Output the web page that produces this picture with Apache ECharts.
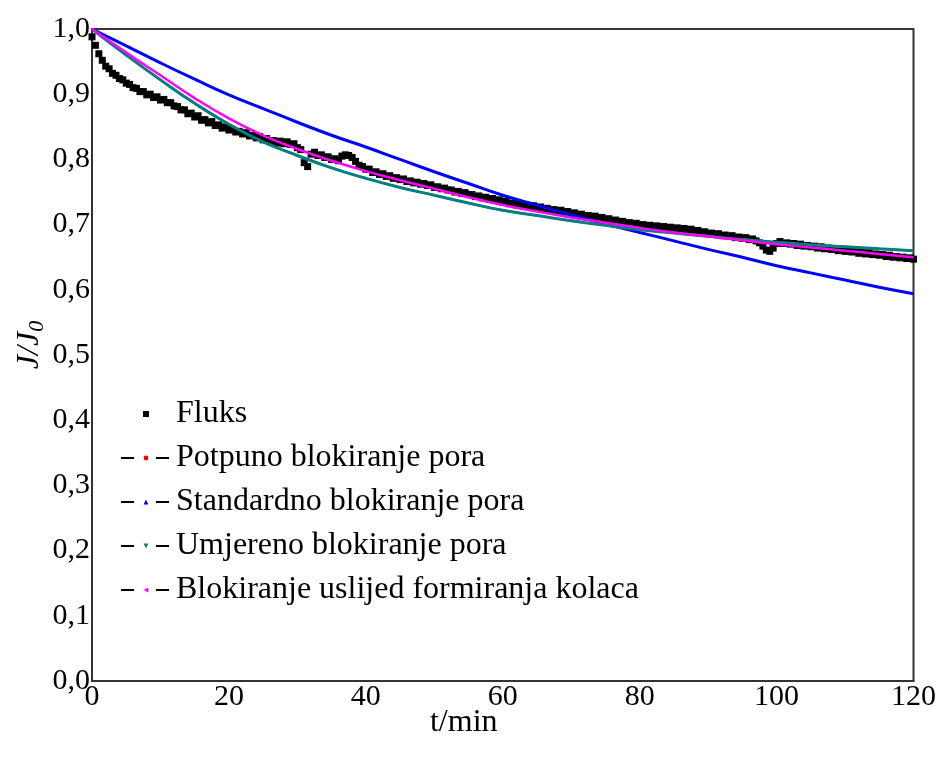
<!DOCTYPE html>
<html>
<head>
<meta charset="utf-8">
<script src="https://cdn.jsdelivr.net/npm/echarts@6/dist/echarts.min.js"></script>
<style>
html,body{margin:0;padding:0;background:#fff;}
#chart{width:939px;height:762px;}
</style>
</head>
<body>
<div id="chart"></div>
<script>
// ---- data ----
const seriesNames = ['Fluks', 'Potpuno blokiranje pora', 'Standardno blokiranje pora', 'Umjereno blokiranje pora', 'Blokiranje uslijed formiranja kolaca'];

// measured flux, one reading every 0.5 min from t = 0
const fluxStep = 0.5;
const fluxValues = [
0.988,0.975,0.962,0.952,0.943,0.939,0.932,0.929,0.924,0.922,0.917,0.915,0.910,0.909,0.904,0.904,0.899,0.900,0.895,0.896,
0.891,0.892,0.887,0.887,0.882,0.881,0.876,0.876,0.870,0.871,0.865,0.867,0.860,0.861,0.856,0.858,0.852,0.853,0.848,0.850,
0.845,0.846,0.842,0.843,0.839,0.841,0.836,0.837,0.833,0.835,0.830,0.832,0.827,0.829,0.825,0.828,0.824,0.827,0.823,0.824,
0.818,0.815,0.795,0.789,0.808,0.811,0.806,0.807,0.803,0.804,0.800,0.801,0.798,0.805,0.807,0.806,0.803,0.797,0.791,0.789,
0.785,0.785,0.780,0.781,0.777,0.778,0.774,0.775,0.771,0.772,0.769,0.770,0.766,0.767,0.764,0.765,0.762,0.763,0.760,0.761,
0.757,0.758,0.755,0.756,0.753,0.753,0.750,0.751,0.748,0.749,0.746,0.746,0.743,0.744,0.741,0.742,0.739,0.740,0.737,0.738,
0.735,0.736,0.732,0.733,0.730,0.731,0.728,0.730,0.727,0.729,0.726,0.727,0.724,0.725,0.722,0.723,0.721,0.722,0.719,0.720,
0.717,0.718,0.715,0.716,0.713,0.714,0.711,0.713,0.710,0.711,0.708,0.709,0.706,0.707,0.704,0.705,0.702,0.703,0.701,0.702,
0.699,0.700,0.698,0.699,0.696,0.698,0.695,0.697,0.694,0.696,0.693,0.695,0.692,0.694,0.692,0.693,0.691,0.691,0.688,0.689,
0.686,0.687,0.685,0.686,0.683,0.684,0.682,0.683,0.680,0.681,0.679,0.680,0.677,0.678,0.675,0.672,0.667,0.661,0.659,0.664,
0.671,0.674,0.671,0.672,0.670,0.671,0.668,0.670,0.667,0.668,0.666,0.667,0.664,0.666,0.663,0.664,0.662,0.663,0.660,0.662,
0.659,0.660,0.658,0.659,0.656,0.658,0.655,0.657,0.654,0.655,0.653,0.654,0.651,0.653,0.650,0.651,0.649,0.650,0.648,0.649,
0.647
];

// model curves, read every 5 min (the complete-blocking curve lies under the intermediate one)
const fitTime = [0,5,10,15,20,25,30,35,40,45,50,55,60,65,70,75,80,85,90,95,100,105,110,115,120];
const potpuno    = [1.000,0.960,0.922,0.886,0.854,0.827,0.806,0.787,0.771,0.757,0.745,0.733,0.722,0.714,0.706,0.699,0.692,0.687,0.682,0.677,0.673,0.669,0.666,0.663,0.660];
const standardno = [1.000,0.974,0.948,0.923,0.899,0.878,0.857,0.837,0.819,0.800,0.781,0.763,0.745,0.730,0.715,0.701,0.688,0.675,0.662,0.650,0.637,0.626,0.615,0.604,0.594];
const umjereno   = [1.000,0.960,0.922,0.886,0.854,0.827,0.806,0.787,0.771,0.757,0.745,0.733,0.722,0.714,0.706,0.699,0.692,0.687,0.682,0.677,0.673,0.669,0.666,0.663,0.660];
const kolac      = [1.000,0.964,0.929,0.894,0.863,0.837,0.816,0.798,0.782,0.768,0.755,0.742,0.730,0.720,0.711,0.703,0.695,0.688,0.682,0.676,0.670,0.665,0.660,0.655,0.650];

// ---- chart ----
const FONT = '"Liberation Serif", "Times New Roman", serif';
const pair = (xs, ys) => xs.map((x, i) => [x, ys[i]]);
const fluxData = fluxValues.map((v, i) => [i * fluxStep, v]);

const chart = echarts.init(document.getElementById('chart'), null, {renderer: 'canvas'});
chart.setOption({
  animation: false,
  backgroundColor: '#fff',
  grid: {left: 92, right: 25, top: 29, bottom: 81, show: true, borderColor: '#333', borderWidth: 2, backgroundColor: 'transparent'},
  legend: {
    orient: 'vertical',
    left: 115, top: 393,
    itemWidth: 50, itemHeight: 6, itemGap: 12,
    textStyle: {fontFamily: FONT, fontSize: 32, color: '#000', lineHeight: 32, padding: [0, 0, 0, 0]},
    lineStyle: {color: '#000', type: [13, 22], width: 2},
    data: [
      {name: seriesNames[0], icon: 'path://M0,0M50,0M50,6M0,6M22,0L28,0L28,6L22,6Z', itemStyle: {color: '#000'}},
      seriesNames[1], seriesNames[2], seriesNames[3], seriesNames[4]
    ]
  },
  xAxis: {
    type: 'value', min: 0, max: 120, interval: 20,
    name: 't/min', nameLocation: 'middle', nameGap: 26, nameMoveOverlap: false,
    nameTextStyle: {fontFamily: FONT, fontSize: 32, color: '#000', padding: [0, 78, 0, 0]},
    axisLine: {show: true, onZero: false, lineStyle: {color: '#333', width: 2}},
    axisTick: {show: false},
    splitLine: {show: false},
    axisLabel: {fontFamily: FONT, fontSize: 30, color: '#000', margin: 1}
  },
  yAxis: {
    type: 'value', min: 0, max: 1, interval: 0.1,
    name: '{i|J/J}{s|0}', nameLocation: 'middle', nameGap: 44, nameRotate: 90, nameMoveOverlap: false,
    nameTextStyle: {
      padding: [0, 0, 0, 20],
      rich: {
        i: {fontFamily: FONT, fontSize: 32, fontStyle: 'italic', color: '#000'},
        s: {fontFamily: FONT, fontSize: 22, fontStyle: 'italic', color: '#000', padding: [14, 0, 0, 0]}
      }
    },
    axisLine: {show: true, onZero: false, lineStyle: {color: '#333', width: 2}},
    axisTick: {show: false},
    splitLine: {show: false},
    axisLabel: {fontFamily: FONT, fontSize: 30, color: '#000', margin: 2,
      formatter: v => v.toFixed(1).replace('.', ',')}
  },
  series: [
    {name: seriesNames[0], type: 'scatter', data: fluxData, symbol: 'rect', symbolSize: 7,
     itemStyle: {color: '#000', opacity: 1}, z: 1},
    {name: seriesNames[1], type: 'line', data: pair(fitTime, potpuno), smooth: true, showSymbol: false,
     symbol: 'circle', lineStyle: {color: '#ff0000', width: 2}, itemStyle: {color: '#ff0000'}},
    {name: seriesNames[2], type: 'line', data: pair(fitTime, standardno), smooth: true, showSymbol: false,
     symbol: 'triangle', lineStyle: {color: '#0000ff', width: 3}, itemStyle: {color: '#0000ff'}},
    {name: seriesNames[3], type: 'line', data: pair(fitTime, umjereno), smooth: true, showSymbol: false,
     symbol: 'triangle', symbolRotate: 180, lineStyle: {color: '#008080', width: 3}, itemStyle: {color: '#008080'}},
    {name: seriesNames[4], type: 'line', data: pair(fitTime, kolac), smooth: true, showSymbol: false,
     symbol: 'triangle', symbolRotate: 90, lineStyle: {color: '#ff00ff', width: 2.5}, itemStyle: {color: '#ff00ff'}}
  ]
});
</script>
</body>
</html>
